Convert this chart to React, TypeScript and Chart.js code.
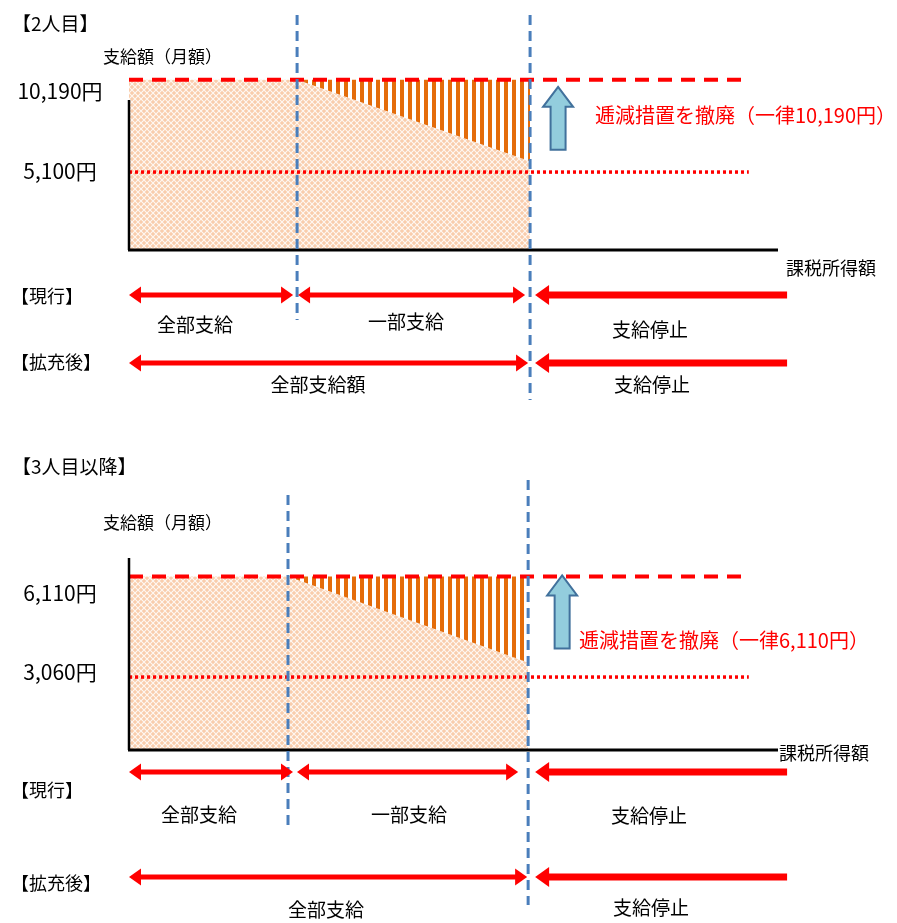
import { useEffect, useRef } from "react";
import { Chart, registerables } from "chart.js";

Chart.register(...registerables);

// 【2人目】 income boundaries (全部支給 | 一部支給 | 支給停止) and monthly amount
const secondIncome = [0, 25.9, 61.8];
const secondAmount = [10190, 10190, 5700];
const secondFull = 10190;
const secondHalf = 5100;
const secondTicks = ["10,190円", "5,100円"];

// 【3人目以降】
const thirdIncome = [0, 24.5, 61.5];
const thirdAmount = [6110, 6110, 3500];
const thirdFull = 6110;
const thirdHalf = 3060;
const thirdTicks = ["6,110円", "3,060円"];

// right ends of the reference lines and of the 支給停止 arrows
const refLineEnd = 95.5;
const arrowEnd = 101.4;

const FONT = '"Noto Sans CJK JP", "Noto Sans CJK SC", sans-serif';
const RED = "#FF0000";
const BLUE = "#4A7EBB";

type Seg = { a: number; b: number; stop?: boolean; n1?: number; n2?: number; text: string; tx: number; ty: number };
type Row = { label: string; labelY: number; y: number; segs: Seg[] };
type Panel = {
  title: string;
  titleY: number;
  unitY: number;
  income: number[];
  amount: number[];
  full: number;
  half: number;
  ticks: string[];
  tickY: number[];
  yMin: number;
  yMax: number;
  padTop: number;
  padBottom: number;
  height: number;
  axisTop: number;
  axisLabelX: number;
  axisLabelY: number;
  guides: [number, number][];
  up: { dx: number; tip: number; len: number };
  note: string;
  noteX: number;
  noteY: number;
  rows: Row[];
};

const panels: Panel[] = [
  {
    title: "【2人目】",
    titleY: 24,
    unitY: 57,
    income: secondIncome,
    amount: secondAmount,
    full: secondFull,
    half: secondHalf,
    ticks: secondTicks,
    tickY: [91, 171],
    yMin: 800,
    yMax: 12000,
    padTop: 47,
    padBottom: 190,
    height: 440,
    axisTop: 100,
    axisLabelX: 786,
    axisLabelY: 268,
    guides: [
      [15, 320],
      [15, 400],
    ],
    up: { dx: 28, tip: 7, len: 63 },
    note: "逓減措置を撤廃（一律10,190円）",
    noteX: 595,
    noteY: 115,
    rows: [
      {
        label: "【現行】",
        labelY: 296,
        y: 295,
        segs: [
          { a: secondIncome[0], b: secondIncome[1], n2: -4, text: "全部支給", tx: 195, ty: 325 },
          { a: secondIncome[1], b: secondIncome[2], n1: 1, n2: -5, text: "一部支給", tx: 406, ty: 322 },
          { a: secondIncome[2], b: arrowEnd, stop: true, n1: 5, text: "支給停止", tx: 650, ty: 330 },
        ],
      },
      {
        label: "【拡充後】",
        labelY: 362,
        y: 363,
        segs: [
          { a: secondIncome[0], b: secondIncome[2], n2: -2, text: "全部支給額", tx: 318, ty: 385 },
          { a: secondIncome[2], b: arrowEnd, stop: true, n1: 5, text: "支給停止", tx: 652, ty: 385 },
        ],
      },
    ],
  },
  {
    title: "【3人目以降】",
    titleY: 27,
    unitY: 83,
    income: thirdIncome,
    amount: thirdAmount,
    full: thirdFull,
    half: thirdHalf,
    ticks: thirdTicks,
    tickY: [153, 232],
    yMin: 850,
    yMax: 7000,
    padTop: 107,
    padBottom: 173,
    height: 483,
    axisTop: 118,
    axisLabelX: 779,
    axisLabelY: 313,
    guides: [
      [55, 388],
      [40, 465],
    ],
    up: { dx: 34, tip: -1, len: 73 },
    note: "逓減措置を撤廃（一律6,110円）",
    noteX: 579,
    noteY: 200,
    rows: [
      {
        label: "【現行】",
        labelY: 350,
        y: 332,
        segs: [
          { a: thirdIncome[0], b: thirdIncome[1], n2: 5, text: "全部支給", tx: 199, ty: 375 },
          { a: thirdIncome[1], b: thirdIncome[2], n1: 9, n2: -10, text: "一部支給", tx: 409, ty: 375 },
          { a: thirdIncome[2], b: arrowEnd, stop: true, n1: 7, text: "支給停止", tx: 649, ty: 376 },
        ],
      },
      {
        label: "【拡充後】",
        labelY: 443,
        y: 437,
        segs: [
          { a: thirdIncome[0], b: thirdIncome[2], n2: -1, text: "全部支給", tx: 326, ty: 470 },
          { a: thirdIncome[2], b: arrowEnd, stop: true, n1: 7, text: "支給停止", tx: 651, ty: 468 },
        ],
      },
    ],
  },
];

function crossPattern(ctx: CanvasRenderingContext2D) {
  const t = document.createElement("canvas");
  t.width = 6;
  t.height = 6;
  const c = t.getContext("2d")!;
  c.fillStyle = "#F9CDAC";
  c.fillRect(0, 0, 6, 6);
  c.strokeStyle = "rgba(255,255,255,0.85)";
  c.lineWidth = 1.1;
  c.beginPath();
  c.moveTo(-1, -1);
  c.lineTo(7, 7);
  c.moveTo(7, -1);
  c.lineTo(-1, 7);
  c.stroke();
  return ctx.createPattern(t, "repeat")!;
}

function stripePattern(ctx: CanvasRenderingContext2D) {
  const t = document.createElement("canvas");
  t.width = 8;
  t.height = 4;
  const c = t.getContext("2d")!;
  c.fillStyle = "#FFFFFF";
  c.fillRect(0, 0, 8, 4);
  c.fillStyle = "#E46C0A";
  c.fillRect(0, 0, 4, 4);
  return ctx.createPattern(t, "repeat")!;
}

function text(ctx: CanvasRenderingContext2D, s: string, x: number, y: number, size: number, align: CanvasTextAlign = "left", color = "#000") {
  ctx.font = `${size}px ${FONT}`;
  ctx.fillStyle = color;
  ctx.textAlign = align;
  ctx.textBaseline = "middle";
  ctx.fillText(s, x, y);
}

function hArrow(ctx: CanvasRenderingContext2D, x1: number, x2: number, y: number, stop: boolean) {
  const w = stop ? 7 : 5;
  const hl = stop ? 14 : 12;
  const hw = stop ? 10 : 8.5;
  const right = !stop;
  ctx.strokeStyle = RED;
  ctx.fillStyle = RED;
  ctx.lineWidth = w;
  ctx.lineCap = "butt";
  ctx.setLineDash([]);
  ctx.beginPath();
  ctx.moveTo(x1 + hl - 1, y);
  ctx.lineTo(right ? x2 - hl + 1 : x2, y);
  ctx.stroke();
  ctx.beginPath();
  ctx.moveTo(x1, y);
  ctx.lineTo(x1 + hl, y - hw);
  ctx.lineTo(x1 + hl, y + hw);
  ctx.closePath();
  ctx.fill();
  if (right) {
    ctx.beginPath();
    ctx.moveTo(x2, y);
    ctx.lineTo(x2 - hl, y - hw);
    ctx.lineTo(x2 - hl, y + hw);
    ctx.closePath();
    ctx.fill();
  }
}

function upArrow(ctx: CanvasRenderingContext2D, cx: number, tip: number, base: number) {
  const hw = 15;
  const sw = 7.5;
  const hh = 20;
  ctx.beginPath();
  ctx.moveTo(cx, tip);
  ctx.lineTo(cx + hw, tip + hh);
  ctx.lineTo(cx + sw, tip + hh);
  ctx.lineTo(cx + sw, base);
  ctx.lineTo(cx - sw, base);
  ctx.lineTo(cx - sw, tip + hh);
  ctx.lineTo(cx - hw, tip + hh);
  ctx.closePath();
  ctx.fillStyle = "#93CDDD";
  ctx.fill();
  ctx.strokeStyle = "#41719C";
  ctx.lineWidth = 2;
  ctx.setLineDash([]);
  ctx.stroke();
}

function makeDiagramPlugin(p: Panel) {
  return {
    id: "diagram",
    afterDatasetsDraw(chart: any) {
      const ctx: CanvasRenderingContext2D = chart.ctx;
      const xs = chart.scales.x;
      const ys = chart.scales.y;
      const px = (v: number) => xs.getPixelForValue(v);
      const py = (v: number) => ys.getPixelForValue(v);
      const area = chart.chartArea;
      ctx.save();

      // axes
      ctx.strokeStyle = "#000";
      ctx.setLineDash([]);
      ctx.lineWidth = 2.5;
      ctx.beginPath();
      ctx.moveTo(px(p.income[0]), p.axisTop);
      ctx.lineTo(px(p.income[0]), area.bottom);
      ctx.stroke();
      ctx.lineWidth = 3;
      ctx.beginPath();
      ctx.moveTo(px(p.income[0]) - 1, area.bottom);
      ctx.lineTo(area.right, area.bottom);
      ctx.stroke();

      // income boundaries
      ctx.strokeStyle = BLUE;
      ctx.lineWidth = 3;
      ctx.setLineDash([10, 6]);
      [p.income[1], p.income[2]].forEach((v, i) => {
        const x = px(v);
        ctx.beginPath();
        ctx.moveTo(x, p.guides[i][0]);
        ctx.lineTo(x, p.guides[i][1]);
        ctx.stroke();
      });
      ctx.setLineDash([]);

      // raise arrow and note
      const tipY = py(p.full) + p.up.tip;
      upArrow(ctx, px(p.income[2]) + p.up.dx, tipY, tipY + p.up.len);
      text(ctx, p.note, p.noteX, p.noteY, 20, "left", RED);

      // titles and tick labels
      text(ctx, p.title, 12, p.titleY, 19);
      text(ctx, "支給額（月額）", 103, p.unitY, 17);
      p.ticks.forEach((t, i) => text(ctx, t, 60, p.tickY[i], 21, "center"));
      text(ctx, "課税所得額", p.axisLabelX, p.axisLabelY, 18);

      // rows of 現行 / 拡充後
      p.rows.forEach((r) => {
        text(ctx, r.label, 11, r.labelY, 18);
        r.segs.forEach((s) => {
          const x1 = px(s.a) + (s.n1 ?? 0);
          const x2 = px(s.b) + (s.n2 ?? 0);
          hArrow(ctx, x1, x2, r.y, !!s.stop);
          text(ctx, s.text, s.tx, s.ty, 19, "center");
        });
      });

      ctx.restore();
    },
  };
}

function Panel({ p }: { p: Panel }) {
  const ref = useRef<HTMLCanvasElement>(null);
  useEffect(() => {
    const canvas = ref.current!;
    const ctx = canvas.getContext("2d")!;
    const inc = p.income;
    const amt = p.amount;
    const chart = new Chart(canvas, {
      type: "line",
      data: {
        datasets: [
          {
            // 一律支給額
            data: [
              { x: inc[0], y: p.full },
              { x: refLineEnd, y: p.full },
            ],
            borderColor: RED,
            borderWidth: 4,
            borderDash: [14, 9],
            pointRadius: 0,
            fill: false,
          },
          {
            // 一部支給の下限
            data: [
              { x: inc[0], y: p.half },
              { x: refLineEnd, y: p.half },
            ],
            borderColor: RED,
            borderWidth: 3.5,
            borderDash: [3, 3],
            pointRadius: 0,
            fill: false,
          },
          {
            // 逓減で減らされている部分
            data: [
              { x: inc[1], y: p.full },
              { x: inc[2], y: p.full },
            ],
            borderWidth: 0,
            borderColor: "rgba(0,0,0,0)",
            backgroundColor: stripePattern(ctx),
            pointRadius: 0,
            fill: 3,
          },
          {
            // 逓減の傾き
            data: [
              { x: inc[1], y: amt[1] },
              { x: inc[2], y: amt[2] },
            ],
            borderWidth: 0,
            borderColor: "rgba(0,0,0,0)",
            pointRadius: 0,
            fill: false,
          },
          {
            // 現行の支給額
            data: inc.map((x, i) => ({ x, y: amt[i] })),
            borderWidth: 0,
            borderColor: "rgba(0,0,0,0)",
            backgroundColor: crossPattern(ctx),
            pointRadius: 0,
            fill: "start",
          },
        ],
      },
      options: {
        responsive: false,
        animation: false,
        events: [],
        layout: { padding: { left: 129, right: 119, top: p.padTop, bottom: p.padBottom } },
        plugins: { legend: { display: false }, tooltip: { enabled: false } },
        scales: {
          x: { type: "linear", min: 0, max: 100, display: false },
          y: { type: "linear", min: p.yMin, max: p.yMax, display: false },
        },
      },
      plugins: [makeDiagramPlugin(p)],
    });
    return () => chart.destroy();
  }, [p]);
  return <canvas ref={ref} width={897} height={p.height} style={{ display: "block" }} />;
}

export default function App() {
  return (
    <div style={{ position: "absolute", left: 0, top: 0, width: 897, height: 923, background: "#fff" }}>
      {panels.map((p, i) => (
        <Panel key={i} p={p} />
      ))}
    </div>
  );
}
